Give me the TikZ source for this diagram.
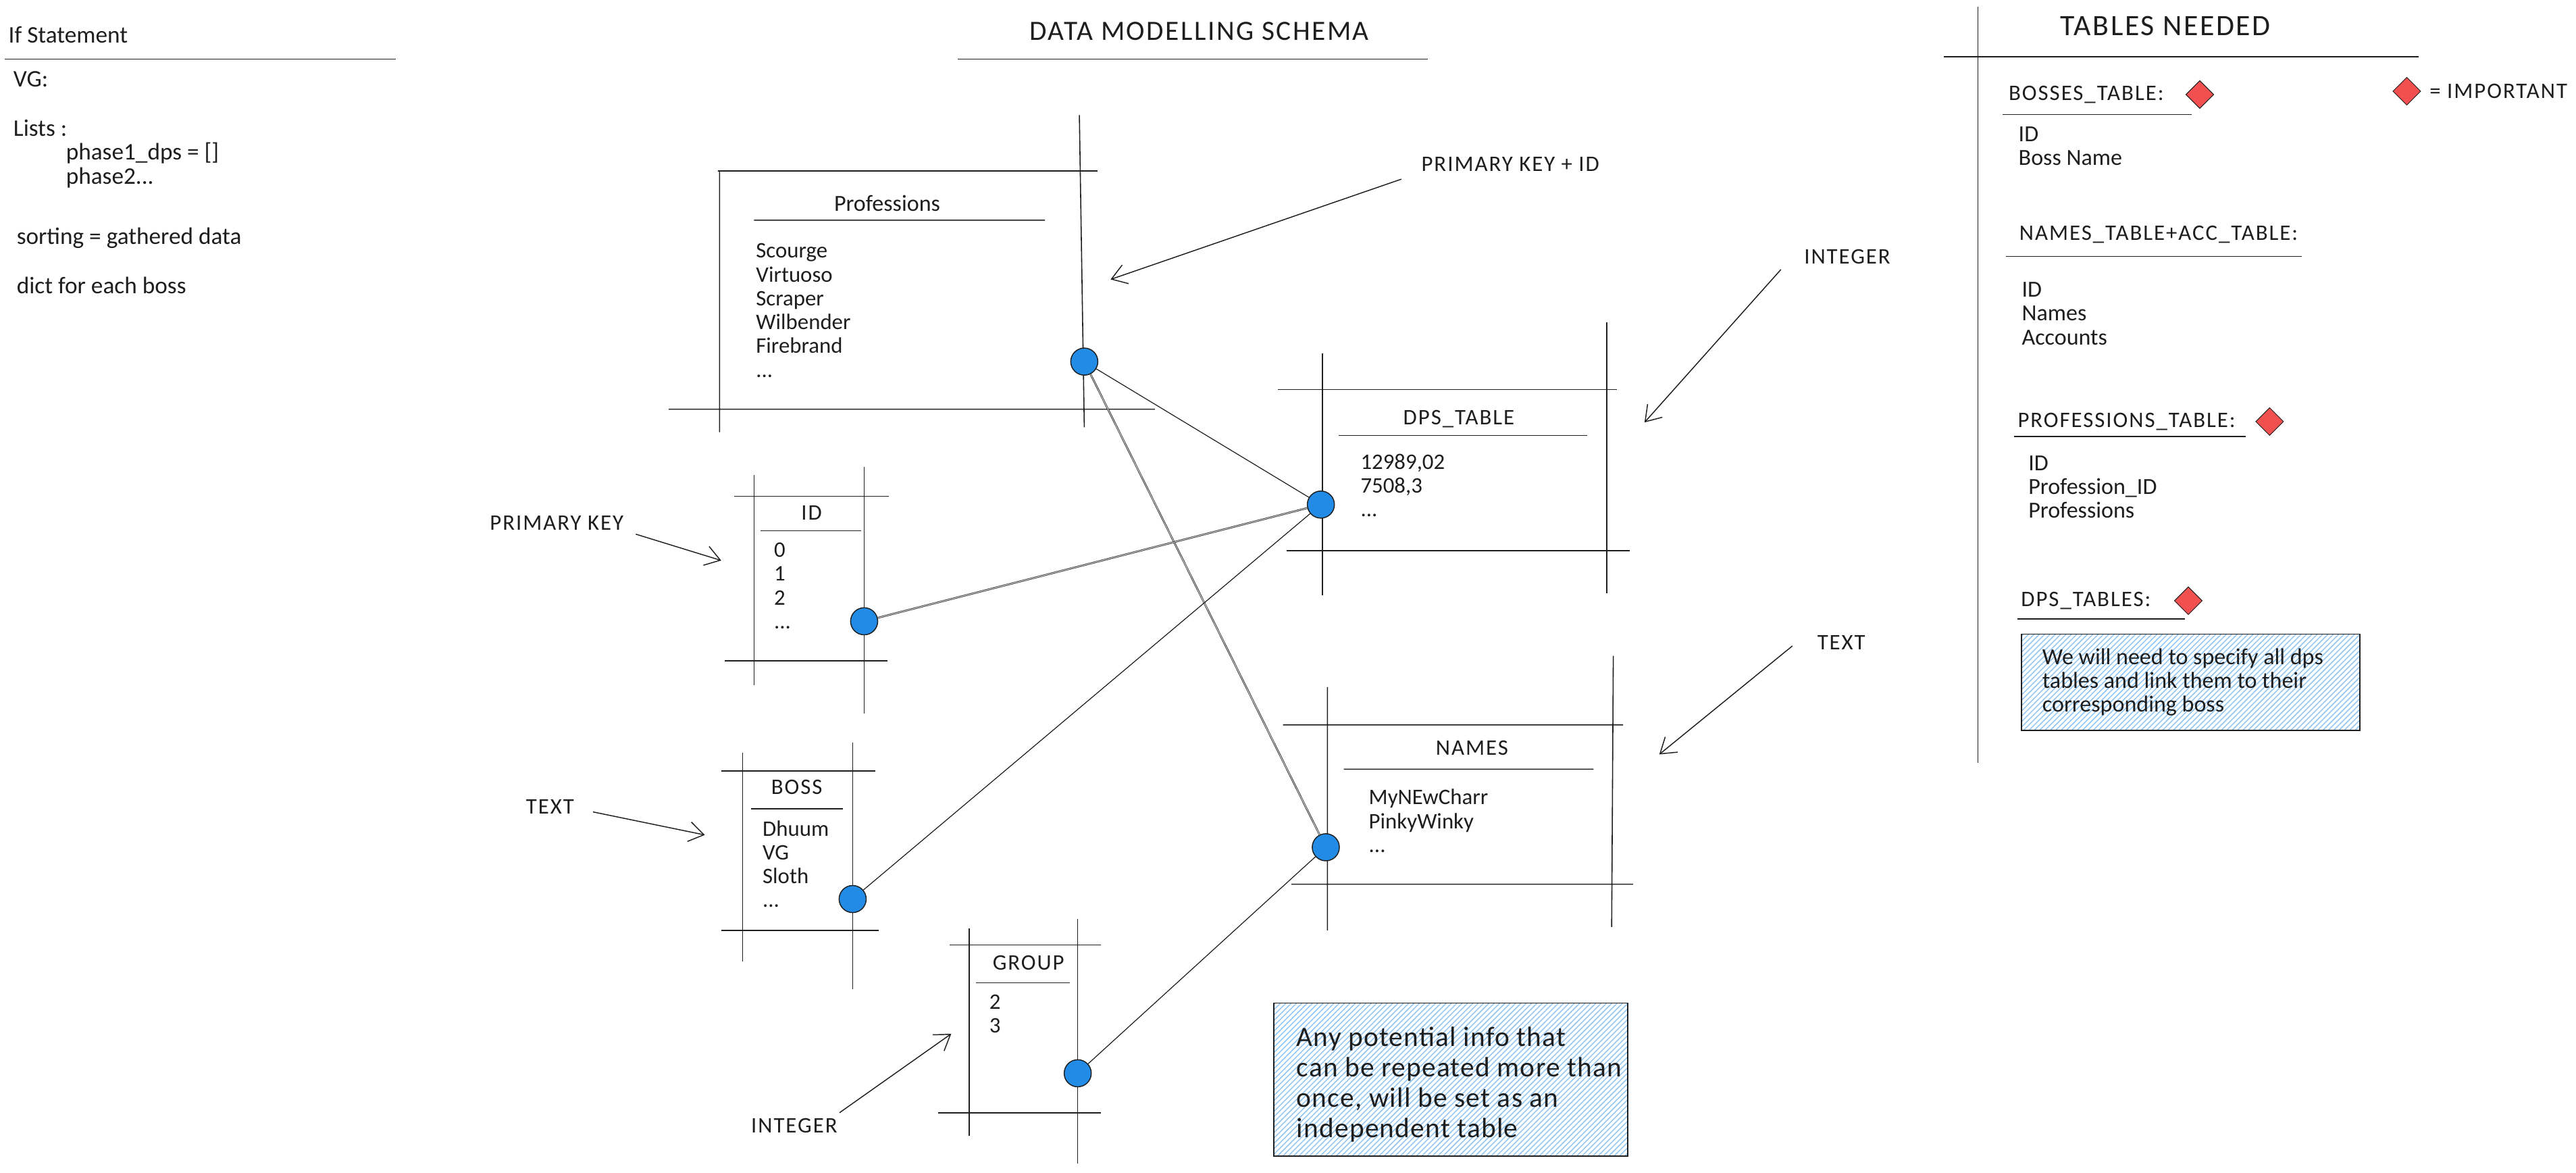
\documentclass[tikz,border=0pt]{standalone}
\usepackage{fontspec}
\setmainfont{Carlito}
\newfontfamily\capsfont[LetterSpace=6]{Carlito}
\newfontfamily\notefont[LetterSpace=3]{Carlito}
\usetikzlibrary{arrows.meta,patterns.meta,shapes.geometric,positioning}

\definecolor{ink}{HTML}{1E1E1E}
\definecolor{dotblue}{HTML}{228BE6}
\definecolor{hatchblue}{HTML}{8CC4F4}
\definecolor{flagred}{HTML}{F25050}

\tikzset{
    rule/.style={draw=ink,line width=0.65pt},
    txt/.style={inner sep=0pt,anchor=west,font=\fontsize{14.5}{14.5}\selectfont,text=ink},
    listtxt/.style={txt,anchor=north west,align=left,font=\fontsize{13.5}{14.5}\selectfont},
    sidetxt/.style={listtxt,font=\fontsize{14}{14.5}\selectfont},
    caps/.style={txt,font=\capsfont\fontsize{13.5}{15}\selectfont},
    tabletitle/.style={inner sep=0pt,font=\capsfont\fontsize{13.5}{15}\selectfont,text=ink},
    bigtitle/.style={inner sep=0pt,font=\capsfont\fontsize{17}{20}\selectfont,text=ink},
    keydot/.style={circle,draw=ink,line width=0.6pt,fill=dotblue,minimum size=16.5pt,inner sep=0pt},
    flag/.style={diamond,draw=ink,line width=0.4pt,fill=flagred,minimum size=17pt,inner sep=0pt},
    link/.style={draw=ink,line width=0.5pt},
    twinlink/.style={draw=ink,line width=0.35pt,double=white,double distance=0.35pt},
    notearrow/.style={draw=ink,line width=0.6pt,-{Straight Barb[length=9pt,width=12pt]}},
    notebox/.style={draw=ink,line width=0.7pt,inner sep=0pt,anchor=north west,
        pattern={Lines[angle=45,distance=2.3pt,line width=0.6pt]},pattern color=hatchblue},
    notetxt/.style={inner sep=0pt,align=left,text=ink},
}

\begin{document}
\begin{tikzpicture}[x=1pt,y=-1pt]
    \useasboundingbox (0,0) rectangle (1568,713.3);

    % scratch notes
    \node[txt] (ifhead) at (5,21) {If Statement};
    \draw[rule] (3,36) -- (241,36);
    \node[txt] (vgnote) at (8,48) {VG:};
    \node[txt] (listsnote) at (8,78) {Lists :};
    \node[txt] (phaseone) at (40,93) {phase1\_dps = []};
    \node[txt] (phasetwo) at (40,108) {phase2...};
    \node[txt] (sortnote) at (10,145) {sorting = gathered data};
    \node[txt] (dictnote) at (10,173.5) {dict for each boss};

    % schema title
    \node[bigtitle] (schematitle) at (730,19) {DATA MODELLING SCHEMA};
    \draw[rule] (583,36) -- (869,36);

    % table frames
    \draw[rule] (437,104) -- (668,104) (438,104) -- (438,263) (657,70) -- (660,260) (407,249) -- (703,249) (459,134) -- (636,134);
    \draw[rule] (778,237) -- (984,237) (783,335) -- (992,335) (805,215) -- (805,362) (978,196) -- (978,361) (815,265) -- (966,265);
    \draw[rule] (447,302) -- (541,302) (441,402) -- (540,402) (459,289) -- (459,417) (526,284) -- (526,434) (463,323) -- (524,323);
    \draw[rule] (439,469) -- (533,469) (439,566) -- (535,566) (452,458) -- (452,585) (519,452) -- (519,602) (457,492) -- (513,492);
    \draw[rule] (578,575) -- (670,575) (571,677) -- (670,677) (590,565) -- (590,691) (656,559) -- (656,708) (594,598) -- (651,598);
    \draw[rule] (781,441) -- (988,441) (786,538) -- (994,538) (808,418) -- (808,566) (982,399) -- (981,564) (818,468) -- (970,468);

    % table texts
    \node[inner sep=0pt,font=\fontsize{14}{15}\selectfont,text=ink] (proftitle) at (540,123.5) {Professions};
    \node[listtxt] (proflist) at (460,148) {Scourge\\Virtuoso\\Scraper\\Wilbender\\Firebrand\\...};
    \node[tabletitle] (dpstitle) at (888,255) {DPS\_TABLE};
    \node[listtxt] (dpslist) at (828,276) {12989,02\\7508,3\\...};
    \node[tabletitle] (idtitle) at (494,312) {ID};
    \node[listtxt] (idlist) at (471,330) {0\\1\\2\\...};
    \node[tabletitle] (bosstitle) at (485,479) {BOSS};
    \node[listtxt] (bosslist) at (464,499) {Dhuum\\VG\\Sloth\\...};
    \node[tabletitle] (grouptitle) at (626,586) {GROUP};
    \node[listtxt] (grouplist) at (602,605) {2\\3};
    \node[tabletitle] (namestitle) at (896,455) {NAMES};
    \node[listtxt] (nameslist) at (833,480) {MyNEwCharr\\PinkyWinky\\...};

    % key dots
    \node[keydot] (profdot) at (660,220) {};
    \node[keydot] (dpsdot) at (804,307) {};
    \node[keydot] (iddot) at (526,378) {};
    \node[keydot] (bossdot) at (519,547) {};
    \node[keydot] (groupdot) at (656,653) {};
    \node[keydot] (namesdot) at (807,515.5) {};

    % relations
    \draw[link] (profdot) -- (dpsdot);
    \draw[twinlink] (profdot) -- (namesdot);
    \draw[twinlink] (iddot) -- (dpsdot);
    \draw[link] (bossdot) -- (dpsdot);
    \draw[link] (groupdot) -- (namesdot);

    % side remarks
    \node[caps] (pkidnote) at (865,100) {PRIMARY KEY + ID};
    \node[caps] (intnote) at (1098,156) {INTEGER};
    \node[caps] (pknote) at (298,318) {PRIMARY KEY};
    \node[caps] (textnote) at (320,491) {TEXT};
    \node[caps] (textnotetwo) at (1106,391) {TEXT};
    \node[caps] (intnotetwo) at (457,685) {INTEGER};
    \coordinate (pkidfrom) at (853,109);
    \coordinate (pkidto) at (676,170);
    \coordinate (intfrom) at (1084,164);
    \coordinate (intto) at (1001,257);
    \coordinate (pkfrom) at (387,325);
    \coordinate (pkto) at (439,341);
    \coordinate (textfrom) at (361,494);
    \coordinate (textto) at (429,508);
    \coordinate (texttwofrom) at (1091,393);
    \coordinate (texttwoto) at (1010,459);
    \coordinate (inttwofrom) at (511,677);
    \coordinate (inttwoto) at (579,629);
    \draw[notearrow] (pkidfrom) -- (pkidto);
    \draw[notearrow] (intfrom) -- (intto);
    \draw[notearrow] (pkfrom) -- (pkto);
    \draw[notearrow] (textfrom) -- (textto);
    \draw[notearrow] (texttwofrom) -- (texttwoto);
    \draw[notearrow] (inttwofrom) -- (inttwoto);

    % repeated info remark
    \node[notebox,minimum width=215.5pt,minimum height=93pt] (repeatbox) at (775,610) {};
    \node[notetxt,font=\notefont\fontsize{17}{18.5}\selectfont,right=14pt of repeatbox.west,yshift=-3pt] (repeattxt)
        {Any potential info that\\can be repeated more than\\once, will be set as an\\independent table};

    % tables needed column
    \draw[rule] (1204,4) -- (1204,464) (1183,34.5) -- (1472,34.5);
    \node[bigtitle,font=\capsfont\fontsize{18}{20}\selectfont] (neededtitle) at (1318,16) {TABLES NEEDED};

    \node[caps] (bosseshead) at (1222.5,57.5) {BOSSES\_TABLE:};
    \draw[rule] (1219,69.7) -- (1334,69.7);
    \node[flag] (bossesflag) at (1339,57.5) {};
    \node[sidetxt] (bossesitems) at (1228.5,77) {ID\\Boss Name};

    \node[flag] (keyflag) at (1465,55.5) {};
    \node[caps,right=5pt of keyflag] (keytxt) {= IMPORTANT};

    \node[caps] (nameshead) at (1229,142.5) {NAMES\_TABLE+ACC\_TABLE:};
    \draw[rule] (1221,156) -- (1401,156);
    \node[sidetxt] (namesitems) at (1230.5,171.5) {ID\\Names\\Accounts};

    \node[caps] (profshead) at (1228,256.5) {PROFESSIONS\_TABLE:};
    \draw[rule] (1226,265.5) -- (1367,265.5);
    \node[flag] (profsflag) at (1381.5,256.5) {};
    \node[sidetxt] (profsitems) at (1234.5,277) {ID\\Profession\_ID\\Professions};

    \node[caps] (dpshead) at (1230,365.5) {DPS\_TABLES:};
    \draw[rule] (1228,376.5) -- (1330,376.5);
    \node[flag] (dpsflag) at (1332,365.5) {};

    \node[notebox,minimum width=206pt,minimum height=58.5pt] (dpsbox) at (1230,385.5) {};
    \node[notetxt,font=\fontsize{14}{14.4}\selectfont,right=13pt of dpsbox.west] (dpstxt)
        {We will need to specify all dps\\tables and link them to their\\corresponding boss};
\end{tikzpicture}
\end{document}
